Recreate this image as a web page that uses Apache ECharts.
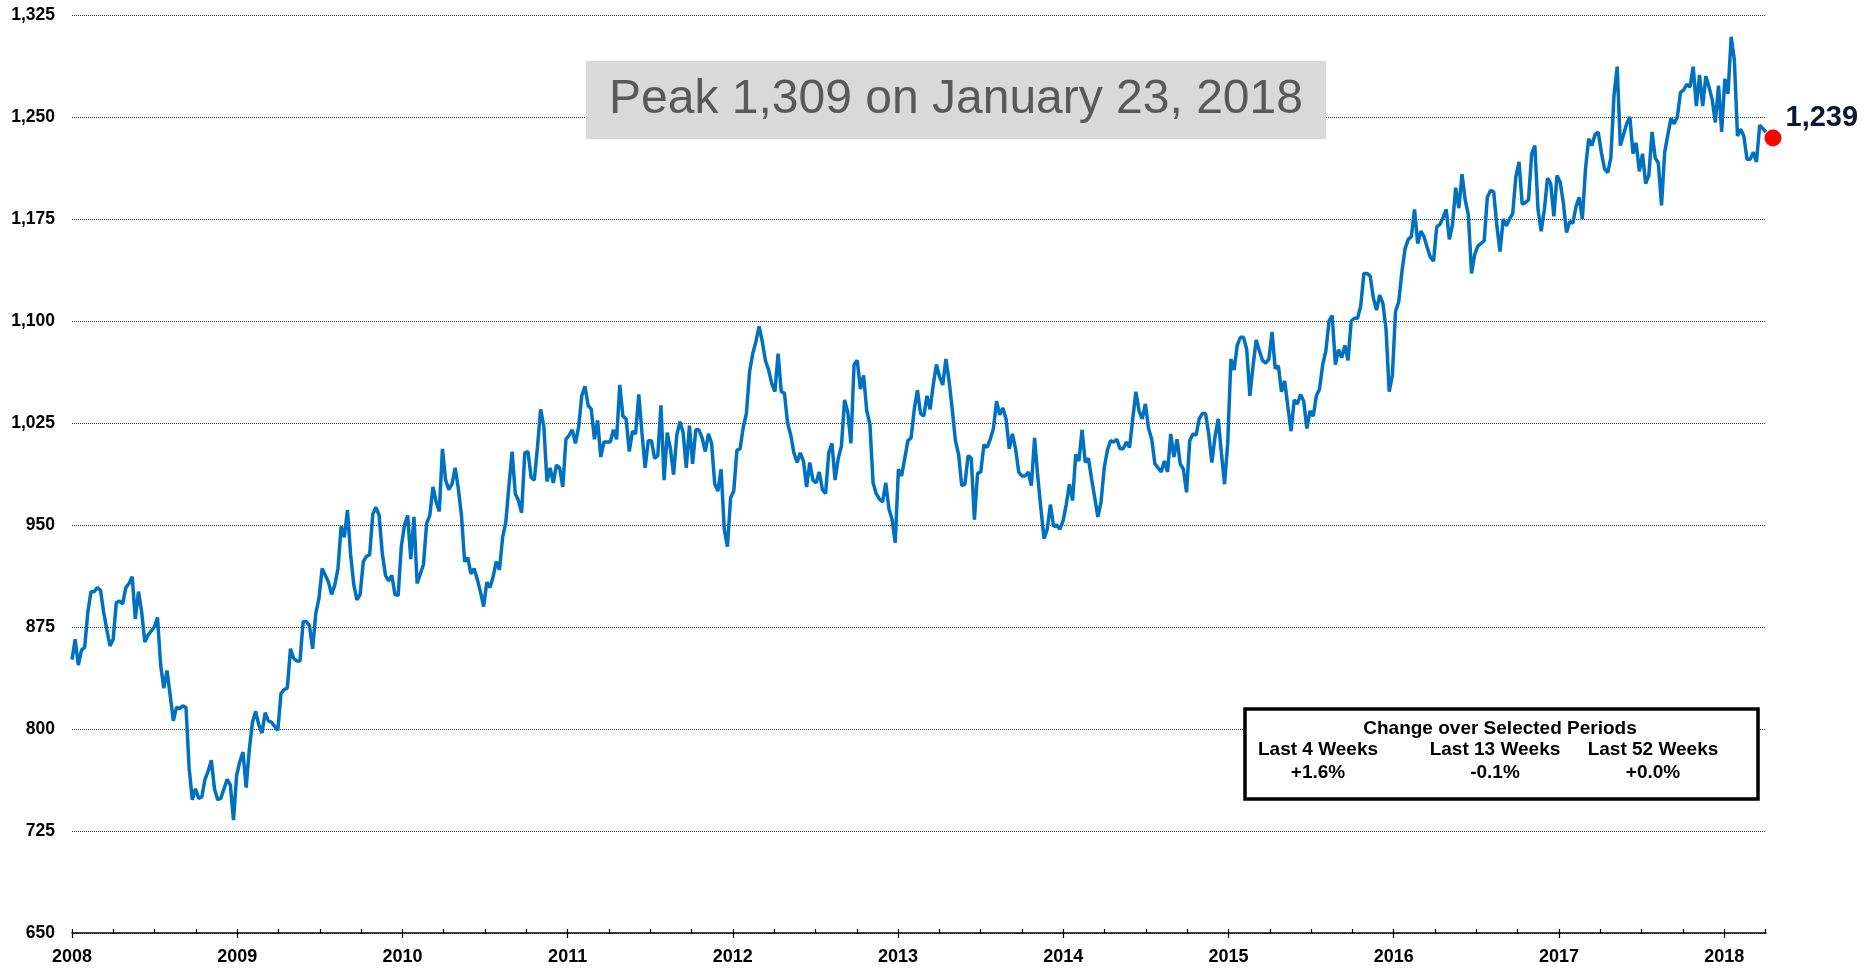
<!DOCTYPE html>
<html>
<head>
<meta charset="utf-8">
<title>Weekly index 2008-2018</title>
<script src="https://cdn.jsdelivr.net/npm/echarts@6.0.0/dist/echarts.min.js"></script>
<style>
  html, body { margin: 0; padding: 0; background: #fff; }
  #main { width: 1876px; height: 968px; }
</style>
</head>
<body>
<div id="main"></div>
<script>
// weekly readings: [week number counted from 1 Jan 2008, index value]
const s2008 = [[0,851],[1,866],[2,847],[3,858],[4,860],[5,886],[6,901],[7,901],[8,904],[9,902],[10,886],[11,873],[12,861],[13,866],[14,893],[15,894],[16,892],[17,904],[18,907],[19,912],[20,881],[21,901],[22,886],[23,864],[24,869],[26,875],[27,882],[28,847],[29,830],[30,843],[31,825],[32,806],[33,816],[34,815],[35,817],[36,816],[37,771],[38,748],[39,756],[40,749],[41,750],[42,763],[43,769],[44,777],[45,756],[46,748],[47,749],[49,763],[50,759],[51,733],[52,766]];
const s2009 = [[53,776],[54,783],[55,757],[56,785],[57,805],[58,813],[59,803],[60,797],[61,812],[62,806],[63,805],[65,799],[66,826],[67,829],[68,830],[69,859],[70,852],[71,850],[72,850],[73,879],[74,879],[75,876],[76,859],[77,885],[78,896],[79,918],[80,913],[81,908],[82,899],[83,906],[84,918],[85,949],[86,941],[87,961],[88,928],[89,906],[90,895],[91,899],[92,923],[93,927],[94,928],[95,958],[96,963],[97,957],[98,929],[99,913],[100,909],[101,913],[102,899],[103,898],[104,934]];
const s2010 = [[105,950],[106,957],[107,925],[108,956],[109,907],[110,914],[111,921],[112,951],[113,957],[114,978],[115,967],[116,960],[117,1006],[118,983],[119,976],[120,980],[121,992],[122,977],[123,957],[124,923],[125,926],[126,914],[127,918],[128,910],[129,901],[130,890],[131,908],[132,904],[133,912],[134,923],[135,917],[136,941],[137,952],[138,979],[139,1004],[140,973],[141,968],[142,959],[143,1003],[144,1004],[145,985],[146,983],[147,1007],[148,1035],[149,1023],[150,982],[151,992],[152,981],[153,994],[154,992],[155,978],[156,1013]];
const s2011 = [[157,1016],[158,1020],[159,1010],[160,1022],[161,1045],[162,1052],[163,1038],[164,1035],[165,1013],[166,1027],[167,1000],[168,1011],[169,1011],[170,1011],[171,1020],[172,1013],[173,1053],[174,1030],[175,1028],[176,1004],[177,1019],[178,1017],[179,1046],[180,1018],[181,992],[182,1012],[183,1012],[184,999],[185,1001],[186,1038],[187,983],[188,1018],[189,1006],[190,987],[191,1016],[192,1026],[193,1018],[194,992],[195,1023],[196,995],[197,1020],[198,1020],[199,1014],[200,1004],[201,1017],[202,1010],[203,980],[204,975],[205,991],[206,947],[207,934],[208,970]];
const s2012 = [[209,975],[210,1005],[211,1006],[212,1022],[213,1032],[214,1063],[215,1076],[216,1085],[217,1096],[218,1085],[219,1071],[220,1064],[221,1054],[222,1048],[223,1076],[224,1048],[225,1047],[226,1025],[227,1016],[228,1003],[229,996],[230,1003],[231,997],[232,978],[233,996],[234,983],[235,981],[236,989],[237,976],[238,973],[239,1003],[240,1010],[241,983],[242,999],[243,1008],[244,1042],[245,1033],[246,1010],[247,1068],[248,1071],[249,1050],[250,1060],[251,1034],[252,1024],[253,981],[254,973],[255,969],[256,967],[257,981],[258,962],[259,954],[260,937]];
const s2013 = [[261,991],[262,986],[263,999],[264,1012],[265,1014],[266,1035],[267,1049],[268,1032],[269,1030],[270,1045],[271,1035],[272,1053],[273,1068],[274,1059],[275,1053],[276,1072],[277,1056],[278,1035],[279,1012],[280,1002],[281,979],[282,980],[283,1001],[284,999],[285,954],[286,988],[287,989],[288,1009],[289,1007],[290,1013],[291,1021],[292,1041],[293,1031],[294,1036],[295,1028],[296,1006],[297,1017],[298,1006],[299,989],[300,986],[301,986],[302,989],[303,979],[304,1014],[305,986],[306,962],[307,940],[308,947],[309,965],[310,949],[311,950],[312,947]];
const s2014 = [[313,953],[314,965],[315,980],[316,968],[317,1002],[318,997],[319,1020],[320,996],[321,999],[322,984],[323,970],[324,956],[325,967],[326,992],[327,1005],[328,1012],[329,1011],[330,1013],[331,1006],[332,1006],[333,1011],[334,1007],[335,1028],[336,1048],[337,1034],[338,1028],[339,1039],[340,1021],[341,1013],[342,995],[343,992],[344,989],[345,997],[346,989],[347,1017],[348,1000],[349,1013],[350,995],[351,991],[352,974],[353,1012],[354,1017],[355,1016],[356,1028],[357,1032],[358,1032],[359,1017],[360,996],[361,1015],[362,1028],[363,1003],[364,980],[365,1010]];
const s2015 = [[366,1072],[367,1064],[368,1082],[369,1088],[370,1088],[371,1079],[372,1045],[373,1067],[374,1086],[375,1078],[376,1071],[377,1069],[378,1072],[379,1092],[380,1065],[381,1067],[382,1048],[383,1056],[384,1037],[385,1019],[386,1042],[387,1039],[388,1046],[389,1041],[390,1021],[391,1034],[392,1030],[393,1045],[394,1050],[395,1068],[396,1078],[397,1100],[398,1104],[399,1068],[400,1079],[401,1073],[402,1082],[403,1071],[404,1100],[405,1102],[406,1102],[407,1111],[408,1135],[409,1135],[410,1133],[411,1117],[412,1108],[413,1119],[414,1113],[415,1094],[416,1048],[417,1060]];
const s2016 = [[418,1107],[419,1114],[420,1136],[421,1153],[422,1160],[423,1162],[424,1182],[425,1157],[426,1166],[427,1162],[428,1154],[429,1147],[430,1144],[431,1169],[432,1171],[433,1176],[434,1182],[435,1160],[436,1171],[437,1198],[438,1183],[439,1208],[440,1189],[441,1178],[442,1135],[443,1149],[444,1155],[446,1159],[447,1191],[448,1196],[449,1195],[450,1170],[451,1151],[452,1175],[453,1170],[454,1175],[455,1179],[456,1206],[457,1217],[458,1186],[459,1187],[460,1189],[461,1223],[462,1229],[463,1182],[464,1166],[465,1182],[466,1205],[467,1201],[468,1177],[469,1207]];
const s2017 = [[470,1202],[471,1187],[472,1165],[473,1173],[474,1172],[475,1184],[476,1191],[477,1175],[478,1212],[479,1234],[480,1229],[481,1237],[482,1239],[483,1224],[484,1212],[485,1209],[486,1220],[487,1266],[488,1287],[489,1229],[490,1237],[491,1245],[492,1250],[493,1223],[494,1231],[495,1210],[496,1223],[497,1201],[498,1207],[499,1239],[500,1220],[501,1216],[502,1185],[503,1224],[504,1237],[505,1249],[506,1245],[507,1250],[508,1268],[509,1270],[510,1274],[511,1272],[512,1287],[513,1258],[514,1281],[515,1258],[516,1280],[517,1272],[518,1263],[519,1246],[520,1273],[521,1239]];
const s2018 = [[522,1278],[523,1267],[524,1309],[525,1292],[526,1236],[527,1241],[528,1236],[529,1219],[530,1219],[531,1224],[532,1217],[533,1244],[535,1239]];

const yearTicks = [2008, 2009, 2010, 2011, 2012, 2013, 2014, 2015, 2016, 2017, 2018];
const peakText = 'Peak 1,309 on January 23, 2018';
const changeTitle = 'Change over Selected Periods';
const changeHeads = ['Last 4 Weeks', 'Last 13 Weeks', 'Last 52 Weeks'];
const changeValues = ['+1.6%', '-0.1%', '+0.0%'];

const FONT = 'Arial, "Liberation Sans", sans-serif';
const fmt = v => Math.round(v).toString().replace(/\B(?=(\d{3})+(?!\d))/g, ',');
const toYear = w => 2008 + w * 7 / 365.25;

const weekly = [].concat(s2008, s2009, s2010, s2011, s2012, s2013, s2014, s2015, s2016, s2017, s2018);
const lineData = weekly.map(d => [toYear(d[0]), d[1]]);
const last = lineData[lineData.length - 1];
const xMax = last[0];
const quarterTicks = [];
for (let q = 2008; q <= xMax; q += 0.25) quarterTicks.push(q);

const myChart = echarts.init(document.getElementById('main'));

const colX = [1318, 1495, 1653];
const boxText = [
  { type: 'text', z: 21, x: 1500, y: 729, style: { text: changeTitle, fontSize: 19, fontWeight: 'bold', fontFamily: FONT, fill: '#000', align: 'center', verticalAlign: 'middle' } }
];
changeHeads.forEach((h, i) => {
  boxText.push({ type: 'text', z: 21, x: colX[i], y: 750, style: { text: h, fontSize: 19, fontWeight: 'bold', fontFamily: FONT, fill: '#000', align: 'center', verticalAlign: 'middle' } });
  boxText.push({ type: 'text', z: 21, x: colX[i], y: 773, style: { text: changeValues[i], fontSize: 19, fontWeight: 'bold', fontFamily: FONT, fill: '#000', align: 'center', verticalAlign: 'middle' } });
});

myChart.setOption({
  animation: false,
  backgroundColor: '#fff',
  grid: { left: 72, right: 110, top: 15, bottom: 35, containLabel: false, outerBoundsMode: 'none' },
  xAxis: [
    {
      type: 'value',
      min: 2008,
      max: xMax,
      interval: 1,
      axisLine: { show: true, lineStyle: { color: '#000', width: 1.5 } },
      axisTick: { show: true, inside: false, length: 5, customValues: yearTicks, lineStyle: { color: '#000', width: 1.2 } },
      axisLabel: {
        customValues: yearTicks,
        margin: 15,
        fontSize: 18,
        fontWeight: 'bold',
        fontFamily: FONT,
        color: '#000',
        formatter: v => String(Math.round(v))
      },
      splitLine: { show: false }
    },
    {
      type: 'value',
      min: 2008,
      max: xMax,
      position: 'bottom',
      axisLine: { show: false },
      axisTick: { show: true, inside: true, length: 4, customValues: quarterTicks, lineStyle: { color: '#000', width: 1.2 } },
      axisLabel: { show: false },
      splitLine: { show: false }
    }
  ],
  yAxis: {
    type: 'value',
    min: 650,
    max: 1325,
    interval: 75,
    axisLine: { show: false },
    axisTick: { show: false },
    axisLabel: {
      margin: 17,
      fontSize: 17.5,
      fontWeight: 'bold',
      fontFamily: FONT,
      color: '#000',
      formatter: v => fmt(v)
    },
    splitLine: { show: true, lineStyle: { color: '#333', type: 'dotted', width: 1 } }
  },
  graphic: [
    { type: 'rect', z: 20, shape: { x: 586, y: 61, width: 740, height: 78 }, style: { fill: '#D9D9D9' } },
    { type: 'text', z: 21, x: 956, y: 100, style: { text: peakText, fontSize: 48, fontFamily: FONT, fill: '#595959', align: 'center', verticalAlign: 'middle' } },
    { type: 'rect', z: 20, shape: { x: 1245, y: 709, width: 513, height: 90 }, style: { fill: '#fff', stroke: '#000', lineWidth: 3.5 } }
  ].concat(boxText),
  series: [
    {
      type: 'line',
      data: lineData,
      showSymbol: false,
      symbol: 'none',
      lineStyle: { color: '#0070C0', width: 3.5 },
      z: 3
    },
    {
      type: 'scatter',
      data: [last],
      symbolSize: 17,
      symbolOffset: [7, 6],
      clip: false,
      itemStyle: { color: '#FF0000', opacity: 1 },
      label: {
        show: true,
        position: 'right',
        distance: 4,
        offset: [0, -20],
        formatter: p => fmt(p.value[1]),
        fontSize: 29,
        fontWeight: 'bold',
        fontFamily: FONT,
        color: '#0A1636',
        opacity: 1
      },
      z: 5
    }
  ]
});
</script>
</body>
</html>
